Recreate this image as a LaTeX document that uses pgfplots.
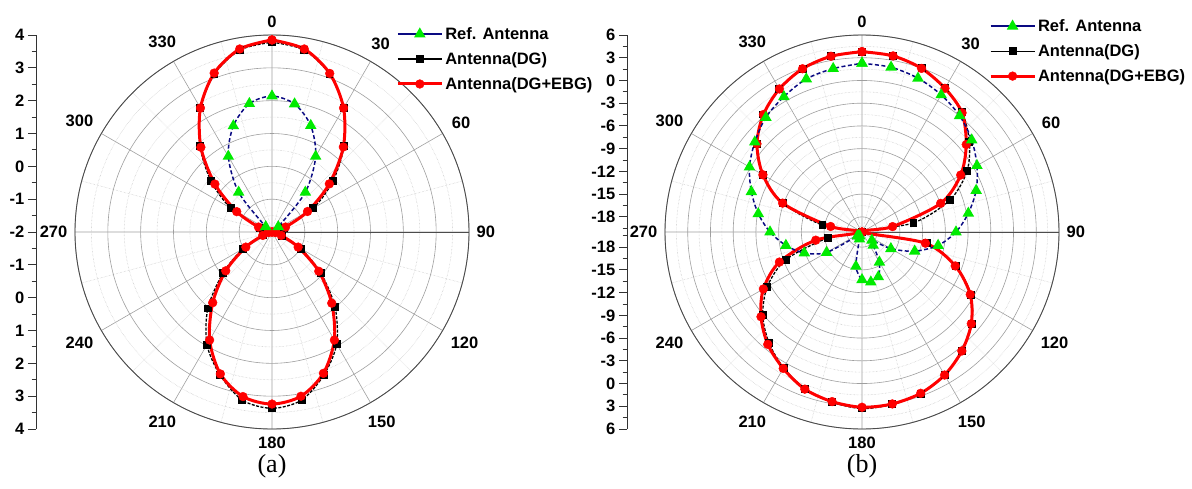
\documentclass[border=0pt]{standalone}
\usepackage{pgfplots}
\pgfplotsset{compat=1.18}
\usepgfplotslibrary{polar}
\usepackage{pgfplotstable}
\usepackage{fontspec}
\setmainfont{Liberation Sans}
\newfontfamily\capfont{Liberation Serif}

\definecolor{refblue}{RGB}{10,10,130}
\definecolor{refgreen}{RGB}{0,235,0}

% Gain patterns (dB) versus angle (deg, clockwise from 0 at the top)
\pgfplotstableread{
a    dg     ebg
0    3.78   3.85
10   3.63   3.66
20   3.12   3.14
30   2.36   2.36
40   1.41   1.38
50   0.43   0.28
60   -0.55  -0.75
70   -1.62  -1.56
80   -1.93  -1.90
90   -2.00  -2.00
100  -1.92  -1.90
110  -1.68  -1.70
120  -0.98  -1.08
130  -0.06  -0.14
140  0.99   0.83
150  1.94   1.80
160  2.63   2.58
170  3.20   3.08
180  3.37   3.24
190  3.20   3.09
200  2.63   2.60
210  1.96   1.80
220  1.04   0.81
230  -0.05  -0.16
240  -0.98  -1.08
250  -1.70  -1.70
260  -1.92  -1.90
270  -2.00  -2.00
280  -1.93  -1.90
290  -1.62  -1.56
300  -0.55  -0.76
310  0.43   0.27
320  1.41   1.37
330  2.36   2.36
340  3.12   3.15
350  3.63   3.66
360  3.78   3.85
}\patA

\pgfplotstableread{
a    ref
300  -2.00
310  -1.75
320  -0.42
330  0.66
340  1.44
350  1.97
360  2.14
370  1.96
380  1.45
390  0.66
400  -0.42
410  -1.75
420  -2.00
}\patAref

\pgfplotstableread{
a    ref     dg      ebg
0    2.26    3.75    3.80
10   2.08    3.60    3.60
20   1.60    3.00    2.98
30   0.90    1.95    1.90
40   0.04    0.60    0.54
50   -1.10   -1.50   -2.04
60   -2.48   -4.00   -4.96
70   -3.97   -7.65   -8.95
80   -5.75   -13.10  -15.90
90   -7.60   -20.00  -20.00
100  -9.80   -11.30  -11.50
110  -12.60  -6.80   -6.90
120  -15.60  -3.40   -3.50
130  -18.30  -1.10   -1.17
140  -17.70  0.50    0.50
150  -15.40  1.80    1.80
160  -13.70  2.70    2.65
170  -13.30  3.10    3.04
180  -13.70  3.30    3.13
190  -15.40  2.80    2.73
200  -19.00  2.00    2.07
210  -19.40  0.70    0.79
220  -19.30  -0.90   -0.65
230  -19.20  -2.90   -2.60
240  -14.60  -5.57   -4.97
250  -11.90  -9.30   -8.40
260  -9.80   -15.40  -13.80
270  -7.86   -20.00  -20.00
280  -6.10   -14.70  -15.80
290  -4.46   -8.85   -8.85
300  -2.85   -4.90   -4.90
310  -1.53   -1.90   -1.90
320  -0.26   0.24    0.24
330  0.62    1.80    1.80
340  1.50    2.93    2.93
350  1.90    3.55    3.55
360  2.26    3.75    3.80
}\patB

\pgfplotsset{
  legend image code/.code={%
    \draw[mark repeat=2,mark phase=2,#1] plot coordinates {(0pt,0pt) (22pt,0pt) (44pt,0pt)};},
  serref/.style={refblue, dash pattern=on 4pt off 2.5pt, line width=1.5pt, mark=triangle*, mark size=5.2pt,
    mark options={solid, draw=refgreen, fill=refgreen}},
  serdg/.style={black, dash pattern=on 3pt off 1.5pt, line width=1.3pt, mark=square*, mark size=3.3pt,
    mark options={solid, fill=black}},
  serebg/.style={red, line width=3pt, mark=*, mark size=4.4pt,
    mark options={solid, fill=red, line width=0.4pt}},
  legref/.style={refblue, solid, line width=1.5pt, mark=triangle*, mark size=5.2pt,
    mark options={draw=refgreen, fill=refgreen}},
  legdg/.style={black, solid, line width=1.3pt, mark=square*, mark size=3.3pt},
  legebg/.style={red, solid, line width=3pt, mark=*, mark size=4.4pt,
    mark options={fill=red, line width=0.4pt}},
  polstyle/.style={
    width=394pt, height=394pt, scale only axis,
    xtick={0,30,...,330},
    xticklabels={90,60,30,0,330,300,270,240,210,180,150,120},
    minor xtick={15,45,...,345},
    yticklabels={},
    grid=both,
    major grid style={gray!75, line width=0.6pt},
    minor grid style={gray!45, densely dotted, line width=0.6pt},
    axis line style={black!70, line width=0.9pt},
    tick style={draw=none},
    xticklabel style={font=\fontsize{16.5}{16.5}\selectfont\bfseries, inner sep=7.5pt},
    legend cell align=left,
    legend style={draw=none, fill=none, anchor=north west, inner sep=0pt,
      row sep=7.5pt, font=\fontsize{16.5}{16.5}\selectfont\bfseries,
      cells={anchor=west}},
  },
  scalestyle/.style={
    scale only axis, width=10pt, height=394pt,
    xmin=0, xmax=1,
    axis x line=none, axis y line*=left,
    tick align=outside,
    major tick length=8pt, minor tick length=4.5pt,
    yticklabel style={font=\fontsize{16.5}{16.5}\selectfont\bfseries, inner sep=3.5pt},
    axis line style={black!80, line width=0.9pt},
    tick style={black!80, line width=0.9pt},
  },
}

\begin{document}
\begin{tikzpicture}
\useasboundingbox (0,0) rectangle (1192pt,488pt);

% ---------- (a) ----------
\begin{axis}[scalestyle, at={(36pt,256pt)}, anchor=west,
  ymin=-6, ymax=6, ytick={-6,...,6},
  yticklabels={4,3,2,1,0,-1,-2,-1,0,1,2,3,4},
  minor ytick={-5.5,-4.5,...,5.5}]
\end{axis}

\begin{polaraxis}[polstyle, at={(272pt,256pt)}, anchor=center,
  ymin=0, ymax=6, ytick={0,...,6}, minor ytick={0.5,1.5,...,5.5},
  legend style={at={(0.815,1.025)}}]
  \addlegendimage{legref}\addlegendentry{Ref. Antenna}
  \addlegendimage{legdg}\addlegendentry{Antenna(DG)}
  \addlegendimage{legebg}\addlegendentry{Antenna(DG+EBG)}
  \addplot[serdg, smooth, forget plot] table[x expr=90-\thisrow{a}, y expr=\thisrow{dg}+2] {\patA};
  \addplot[serebg, smooth, forget plot] table[x expr=90-\thisrow{a}, y expr=\thisrow{ebg}+2] {\patA};
  \addplot[serref, smooth, forget plot, mark indices={2,...,12}] table[x expr=90-\thisrow{a}, y expr=\thisrow{ref}+2] {\patAref};
\end{polaraxis}

\node[font=\capfont\fontsize{26}{26}\selectfont] at (272pt,22pt) {(a)};

% ---------- (b) ----------
\begin{axis}[scalestyle, at={(627pt,256pt)}, anchor=west,
  ymin=-26, ymax=26,
  ytick={-26,-23,-20,-17,-14,-11,-8,-5,-2,2,5,8,11,14,17,20,23,26},
  yticklabels={6,3,0,-3,-6,-9,-12,-15,-18,-18,-15,-12,-9,-6,-3,0,3,6},
  minor ytick={-24.5,-21.5,-18.5,-15.5,-12.5,-9.5,-6.5,-3.5,-0.5,0.5,3.5,6.5,9.5,12.5,15.5,18.5,21.5,24.5}]
\end{axis}

\begin{polaraxis}[polstyle, at={(862pt,256pt)}, anchor=center,
  ymin=0, ymax=26, ytick={2,5,...,26}, minor ytick={0.5,3.5,...,24.5},
  legend style={at={(0.822,1.045)}}]
  \addlegendimage{legref}\addlegendentry{Ref. Antenna}
  \addlegendimage{legdg}\addlegendentry{Antenna(DG)}
  \addlegendimage{legebg}\addlegendentry{Antenna(DG+EBG)}
  \addplot[serdg, smooth, forget plot] table[x expr=90-\thisrow{a}, y expr=\thisrow{dg}+20] {\patB};
  \addplot[serebg, smooth, forget plot] table[x expr=90-\thisrow{a}, y expr=\thisrow{ebg}+20] {\patB};
  \addplot[serref, smooth, forget plot] table[x expr=90-\thisrow{a}, y expr=\thisrow{ref}+20] {\patB};
\end{polaraxis}

\node[font=\capfont\fontsize{26}{26}\selectfont] at (862pt,22pt) {(b)};
\end{tikzpicture}
\end{document}
